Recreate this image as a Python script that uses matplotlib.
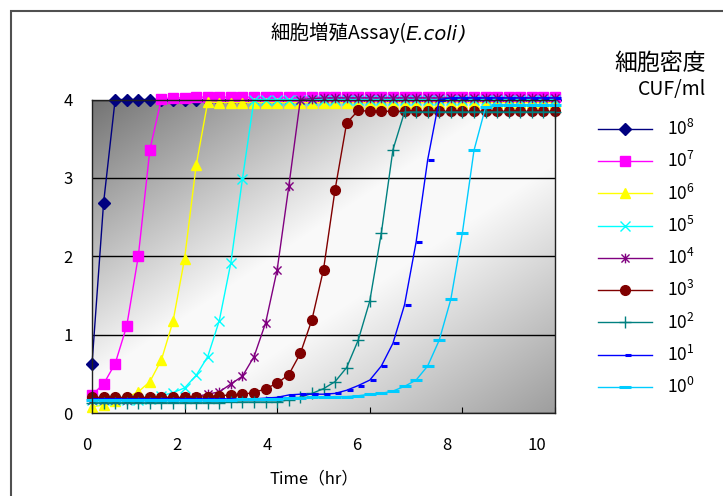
import numpy as np
import matplotlib
matplotlib.use('Agg')
import matplotlib.pyplot as plt
from matplotlib.path import Path
from matplotlib.patches import Rectangle
from matplotlib.transforms import ScaledTranslation

plt.rcParams['font.family'] = ['Noto Sans CJK JP', 'DejaVu Sans']

# 時間 (hr)
time_hr = [0, 0.25, 0.5, 0.75, 1, 1.25, 1.5, 1.75, 2, 2.25,
           2.5, 2.75, 3, 3.25, 3.5, 3.75, 4, 4.25, 4.5, 4.75,
           5, 5.25, 5.5, 5.75, 6, 6.25, 6.5, 6.75, 7, 7.25,
           7.5, 7.75, 8, 8.25, 8.5, 8.75, 9, 9.25, 9.5, 9.75,
           10]

# 細胞密度ごとの値 (CUF/ml)
e8 = [0.62, 2.68, 4.00, 4.00, 4.00, 4.00, 4.00, 4.00, 4.00, 4.00,
      4.00, 4.00, 4.00, 4.00, 4.00, 4.00, 4.00, 4.00, 4.00, 4.00,
      4.00, 4.00, 4.00, 4.00, 4.00, 4.00, 4.00, 4.00, 4.00, 4.00,
      4.00, 4.00, 4.00, 4.00, 4.00, 4.00, 4.00, 4.00, 4.00, 4.00,
      4.00]
e7 = [0.23, 0.37, 0.63, 1.11, 2.00, 3.36, 4.01, 4.02, 4.02, 4.03,
      4.03, 4.03, 4.03, 4.03, 4.03, 4.03, 4.03, 4.03, 4.03, 4.03,
      4.03, 4.03, 4.03, 4.03, 4.03, 4.03, 4.03, 4.03, 4.03, 4.03,
      4.03, 4.03, 4.03, 4.03, 4.03, 4.03, 4.03, 4.03, 4.03, 4.03,
      4.03]
e6 = [0.08, 0.10, 0.15, 0.20, 0.27, 0.40, 0.68, 1.17, 1.97, 3.16,
      3.97, 3.96, 3.96, 3.96, 3.96, 3.96, 3.96, 3.96, 3.96, 3.96,
      3.96, 3.96, 3.96, 3.96, 3.96, 3.96, 3.96, 3.96, 3.96, 3.96,
      3.96, 3.96, 3.96, 3.96, 3.96, 3.96, 3.96, 3.96, 3.96, 3.96,
      3.96]
e5 = [0.16, 0.16, 0.16, 0.17, 0.17, 0.18, 0.22, 0.26, 0.32, 0.48,
      0.72, 1.18, 1.92, 2.99, 4.00, 4.00, 4.00, 4.00, 4.00, 4.00,
      4.00, 4.00, 4.00, 4.00, 4.00, 4.00, 4.00, 4.00, 4.00, 4.00,
      4.00, 4.00, 4.00, 4.00, 4.00, 4.00, 4.00, 4.00, 4.00, 4.00,
      4.00]
e4 = [0.17, 0.17, 0.17, 0.17, 0.18, 0.18, 0.19, 0.19, 0.20, 0.21,
      0.24, 0.27, 0.37, 0.47, 0.72, 1.15, 1.83, 2.89, 4.00, 4.01,
      4.02, 4.02, 4.02, 4.02, 4.02, 4.02, 4.02, 4.02, 4.02, 4.02,
      4.02, 4.02, 4.02, 4.02, 4.02, 4.02, 4.02, 4.02, 4.02, 4.02,
      4.02]
e3 = [0.20, 0.20, 0.20, 0.20, 0.20, 0.20, 0.20, 0.20, 0.20, 0.20,
      0.21, 0.22, 0.23, 0.24, 0.26, 0.31, 0.38, 0.49, 0.76, 1.19,
      1.83, 2.85, 3.70, 3.86, 3.85, 3.85, 3.85, 3.85, 3.85, 3.85,
      3.85, 3.85, 3.85, 3.85, 3.85, 3.85, 3.85, 3.85, 3.85, 3.85,
      3.85]
e2 = [0.13, 0.13, 0.13, 0.13, 0.13, 0.13, 0.13, 0.13, 0.13, 0.13,
      0.13, 0.13, 0.14, 0.14, 0.14, 0.14, 0.14, 0.17, 0.20, 0.25,
      0.31, 0.40, 0.58, 0.93, 1.43, 2.30, 3.36, 3.84, 3.84, 3.84,
      3.84, 3.84, 3.84, 3.84, 3.84, 3.84, 3.84, 3.84, 3.84, 3.84,
      3.84]
e1 = [0.18, 0.18, 0.18, 0.18, 0.18, 0.18, 0.18, 0.18, 0.18, 0.18,
      0.18, 0.18, 0.18, 0.18, 0.18, 0.19, 0.20, 0.23, 0.24, 0.24,
      0.24, 0.25, 0.29, 0.35, 0.42, 0.60, 0.89, 1.38, 2.18, 3.23,
      4.00, 4.02, 4.02, 4.02, 4.02, 4.02, 4.02, 4.02, 4.02, 4.02,
      4.02]
e0 = [0.17, 0.17, 0.17, 0.17, 0.17, 0.17, 0.17, 0.17, 0.17, 0.17,
      0.17, 0.17, 0.17, 0.18, 0.18, 0.18, 0.18, 0.19, 0.19, 0.20,
      0.20, 0.21, 0.21, 0.22, 0.24, 0.25, 0.28, 0.34, 0.42, 0.60,
      0.93, 1.45, 2.30, 3.35, 3.90, 3.93, 3.93, 3.93, 3.93, 3.93,
      3.93]

series = [e8, e7, e6, e5, e4, e3, e2, e1, e0]
labels = ['$\\mathregular{10^{8}}$', '$\\mathregular{10^{7}}$', '$\\mathregular{10^{6}}$',
          '$\\mathregular{10^{5}}$', '$\\mathregular{10^{4}}$', '$\\mathregular{10^{3}}$',
          '$\\mathregular{10^{2}}$', '$\\mathregular{10^{1}}$', '$\\mathregular{10^{0}}$']
colors = ['#000080', '#FF00FF', '#FFFF00', '#00FFFF', '#800080',
          '#800000', '#008080', '#0000FF', '#00CCFF']

# Excel風マーカー
star = Path([(-1, -1), (1, 1), (-1, 1), (1, -1), (0, -1.2), (0, 1.2)],
            [Path.MOVETO, Path.LINETO, Path.MOVETO, Path.LINETO, Path.MOVETO, Path.LINETO])
short_dash = Path([(0, 0), (1, 0)])
styles = [dict(marker='D', ms=6.5),
          dict(marker='s', ms=7),
          dict(marker='^', ms=7.5),
          dict(marker='x', ms=7, mew=1),
          dict(marker=star, ms=7, mew=1, mfc='none'),
          dict(marker='o', ms=7),
          dict(marker='+', ms=9, mew=1),
          dict(marker=short_dash, ms=9, mew=2.2),
          dict(marker='_', ms=9, mew=2.2)]

fig = plt.figure(figsize=(7.23, 4.96), dpi=100)
ax = fig.add_axes([92/723, 83/496, 463/723, 313.5/496])

# 背景グラデーション
u = np.linspace(0, 1, 300)[None, :]
w = np.linspace(0, 1, 150)[:, None]
d = (u + w) / 2
val = np.interp(d, [0, 0.45, 0.6, 1], [0.45, 0.98, 0.98, 0.62])
ax.imshow(np.dstack([val, val, val]), extent=[0, 10, 0, 4], aspect='auto',
          zorder=0, interpolation='bilinear')

for ys, lab, c, st in zip(series, labels, colors, styles):
    ax.plot(time_hr, ys, color=c, lw=1.0, label=lab, mec=c, clip_on=False, **st)

ax.set_xlim(0, 10)
ax.set_ylim(0, 4)
ax.set_xticks([0, 2, 4, 6, 8, 10])
ax.set_yticks([0, 1, 2, 3, 4])
ax.yaxis.grid(True, color='black', lw=1)
ax.tick_params(axis='x', direction='in', length=4, pad=17, labelsize=12)
ax.tick_params(axis='y', length=0, pad=14, labelsize=12)
for sp in ax.spines.values():
    sp.set_color('#202020')
    sp.set_linewidth(1)
for lab, v in zip(ax.get_xticklabels(), [0, 2, 4, 6, 8, 10]):
    lab.set_transform(lab.get_transform() + ScaledTranslation((-5 - 1.3 * v) / 100, 0, fig.dpi_scale_trans))

# タイトル
t1 = fig.text(270/723, 1 - 33/496, '細胞増殖Assay(', fontsize=14, va='center', ha='left')
t2 = ax.annotate('E.coli', xy=(1, 0), xycoords=t1, va='bottom', ha='left',
                 fontsize=14, style='italic', family=['DejaVu Sans'], annotation_clip=False)
ax.annotate(')', xy=(1, 0), xycoords=t2, va='bottom', ha='left', fontsize=14,
            style='italic', family=['DejaVu Sans'], annotation_clip=False)

fig.text(314/723, 1 - 479/496, 'Time（hr）', fontsize=12, ha='center', va='center')

# 凡例
fig.text(706/723, 1 - 63/496, '細胞密度', fontsize=16.5, ha='right', va='center')
fig.text(706/723, 1 - 90/496, 'CUF/ml', fontsize=14, ha='right', va='center')
ax.legend(loc='center left', bbox_to_anchor=(598/723, 1 - 258/496),
          bbox_transform=fig.transFigure, frameon=False, fontsize=12.5,
          handlelength=3.1, handletextpad=0.9, labelspacing=0.7,
          borderpad=0, borderaxespad=0)

fig.add_artist(Rectangle((11/723, -0.5), 2, 1.5 - 11/496, transform=fig.transFigure,
                         fill=False, edgecolor='#505050', lw=1.5))

fig.savefig('out.png', dpi=100)
